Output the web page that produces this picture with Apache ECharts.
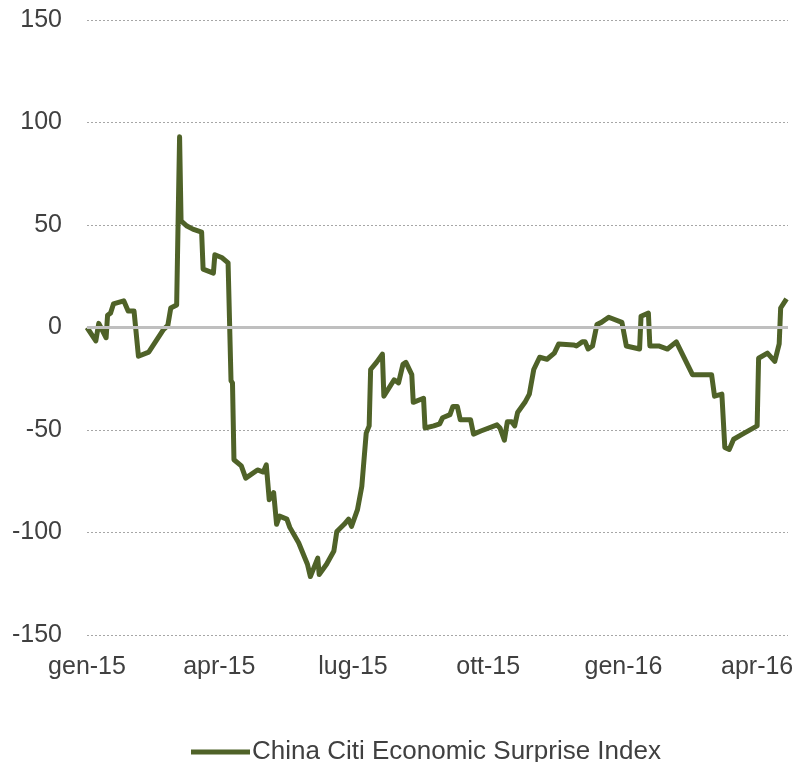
<!DOCTYPE html>
<html>
<head>
<meta charset="utf-8">
<script src="https://cdn.jsdelivr.net/npm/echarts@6/dist/echarts.min.js"></script>
<style>
  html, body { margin: 0; padding: 0; background: #fff; }
  #chart { width: 808px; height: 762px; }
</style>
</head>
<body>
<div id="chart"></div>
<script>
const seriesName = 'China Citi Economic Surprise Index'

const dates = [
    '2015-01-01', '2015-01-07', '2015-01-09', '2015-01-14', '2015-01-15', '2015-01-17', '2015-01-19',
    '2015-01-26', '2015-01-29', '2015-02-02', '2015-02-05', '2015-02-12', '2015-02-22', '2015-02-25',
    '2015-02-27', '2015-03-03', '2015-03-05', '2015-03-06', '2015-03-10', '2015-03-14', '2015-03-20',
    '2015-03-21', '2015-03-28', '2015-03-29', '2015-04-03', '2015-04-07', '2015-04-09', '2015-04-10',
    '2015-04-11', '2015-04-16', '2015-04-19', '2015-04-27', '2015-05-01', '2015-05-03', '2015-05-05',
    '2015-05-08', '2015-05-10', '2015-05-12', '2015-05-17', '2015-05-19', '2015-05-25', '2015-05-31',
    '2015-06-02', '2015-06-07', '2015-06-08', '2015-06-13', '2015-06-18', '2015-06-20', '2015-06-25',
    '2015-06-28', '2015-06-30', '2015-07-04', '2015-07-07', '2015-07-10', '2015-07-12', '2015-07-13',
    '2015-07-17', '2015-07-21', '2015-07-22', '2015-07-29', '2015-08-01', '2015-08-04', '2015-08-06',
    '2015-08-10', '2015-08-11', '2015-08-18', '2015-08-19', '2015-08-25', '2015-08-29', '2015-08-31',
    '2015-09-05', '2015-09-07', '2015-09-10', '2015-09-12', '2015-09-19', '2015-09-21', '2015-09-26',
    '2015-10-07', '2015-10-09', '2015-10-12', '2015-10-14', '2015-10-17', '2015-10-19', '2015-10-21',
    '2015-10-26', '2015-10-29', '2015-11-01', '2015-11-05', '2015-11-10', '2015-11-15', '2015-11-18',
    '2015-11-28', '2015-11-30', '2015-12-04', '2015-12-06', '2015-12-08', '2015-12-11', '2015-12-14',
    '2015-12-17', '2015-12-22', '2015-12-31', '2016-01-03', '2016-01-12', '2016-01-13', '2016-01-18',
    '2016-01-19', '2016-01-25', '2016-01-31', '2016-02-06', '2016-02-17', '2016-03-01', '2016-03-03',
    '2016-03-08', '2016-03-10', '2016-03-13', '2016-03-16', '2016-03-22', '2016-04-01', '2016-04-02',
    '2016-04-08', '2016-04-13', '2016-04-16', '2016-04-17', '2016-04-21'
]

const values = [
    0, -6.5, 2, -5, 6, 7, 11.5,
    13, 8, 8, -14, -12, -1, 1,
    9.5, 11, 93, 52, 49.5, 48, 46.5,
    28.5, 26.5, 35.5, 34, 31.5, -26, -27,
    -64.5, -67.5, -73.5, -69.5, -70.5, -67, -84,
    -80.5, -96, -92, -93.5, -97.5, -105, -115.5,
    -121.5, -112.5, -120.5, -115.5, -109, -99.5, -96,
    -93.5, -97, -89, -77.5, -51.5, -48, -20.5,
    -17, -13, -33.5, -25.5, -27, -18, -17,
    -23, -36.5, -34.5, -49, -48, -47, -44,
    -42.5, -38.5, -38.5, -45, -45, -52, -50.5,
    -47.5, -49, -55, -46, -46, -48, -41.5,
    -36.5, -32.5, -20.5, -14.5, -15.5, -12.5, -8,
    -8.5, -9, -7, -7, -10.5, -9, 1.5,
    2.5, 5, 2.5, -9, -10.5, 5.5, 7,
    -9, -9, -10.5, -7, -23, -23, -33.5,
    -32.5, -58.5, -59.5, -54.5, -52, -48, -15,
    -12.5, -16.5, -8, 9.5, 14
]

// quarterly ticks on the date axis
const tickDates = ['2015-01-01', '2015-04-01', '2015-07-01', '2015-10-01', '2016-01-01', '2016-04-01']
const monthNames = ['gen', 'feb', 'mar', 'apr', 'mag', 'giu', 'lug', 'ago', 'set', 'ott', 'nov', 'dic']

const toTime = s => {
    const p = s.split('-').map(Number)
    return Date.UTC(p[0], p[1] - 1, p[2])
}

const lineData = dates.map((d, i) => [toTime(d), values[i]])

const myChart = echarts.init(document.getElementById('chart'))

const labelFont = 'Liberation Sans, Arial, sans-serif'

const option = {
    animation: false,
    grid: {
        left: 87,
        right: 20,
        top: 20,
        bottom: 127
    },
    legend: {
        data: [{ name: seriesName, icon: 'rect' }],
        top: 734,
        left: 186,
        itemWidth: 59,
        itemHeight: 5,
        itemStyle: { color: '#4F6228' },
        textStyle: {
            color: '#404040',
            fontSize: 26,
            fontFamily: labelFont,
            padding: [0, 0, 0, -3]
        }
    },
    xAxis: {
        type: 'value',
        min: toTime('2015-01-01'),
        max: toTime('2016-04-22'),
        axisLine: { show: false },
        axisTick: { show: false },
        splitLine: { show: false },
        axisLabel: {
            customValues: tickDates.map(toTime),
            color: '#404040',
            fontSize: 25,
            fontFamily: labelFont,
            margin: 20,
            showMinLabel: true,
            showMaxLabel: true,
            formatter: function (val) {
                const d = new Date(val)
                return monthNames[d.getUTCMonth()] + '-' + String(d.getUTCFullYear()).slice(2)
            }
        }
    },
    yAxis: {
        type: 'value',
        min: -150,
        max: 150,
        interval: 50,
        axisLine: { show: false },
        axisTick: { show: false },
        axisLabel: {
            color: '#404040',
            fontSize: 25,
            fontFamily: labelFont,
            margin: 25
        },
        splitLine: {
            lineStyle: {
                color: '#A6A6A6',
                width: 1,
                type: [2, 2]
            }
        }
    },
    series: [
        {
            // zero line, kept under the main line
            name: 'zero',
            type: 'line',
            data: [],
            z: 1,
            silent: true,
            markLine: {
                silent: true,
                symbol: 'none',
                label: { show: false },
                lineStyle: { color: '#BFBFBF', width: 3, type: 'solid' },
                data: [{ yAxis: 0 }]
            }
        },
        {
            name: seriesName,
            type: 'line',
            z: 3,
            symbol: 'none',
            lineStyle: {
                width: 5,
                color: '#4F6228',
                join: 'round'
            },
            itemStyle: { color: '#4F6228' },
            data: lineData
        }
    ]
}

myChart.setOption(option)
</script>
</body>
</html>
